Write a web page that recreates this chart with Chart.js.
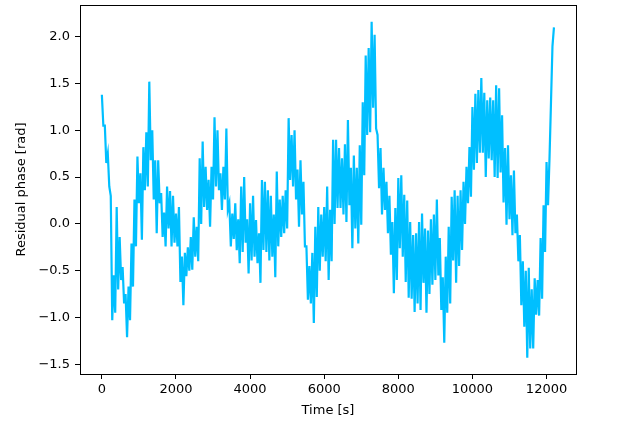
<!DOCTYPE html>
<html>
<head>
<meta charset="utf-8">
<script src="https://cdn.jsdelivr.net/npm/chart.js@4/dist/chart.umd.min.js"></script>
<style>
  body { margin: 0; background: #fff; }
  canvas { display: block; }
</style>
</head>
<body>
<canvas id="phaseChart" width="636" height="422"></canvas>
<script>
const sampleStep = 40;
const phase = [
  1.38, 1.05,  1.05, 0.65,  0.75, 0.40,  0.30, -1.03,  -0.55, -0.95,
  0.18, -0.70,  -0.14, -0.60,  -0.46, -0.85,  -0.75, -1.21,  -0.67, -1.03,
  -0.21, -0.67,  0.26, -0.24,  0.72, 0.22,  0.54, -0.17,  0.82, 0.36,
  0.98, 0.40,  1.52, 0.68,  1.00, 0.26,  0.68, -0.10,  0.68, 0.22,
  0.33, -0.14,  0.12, -0.24,  0.40, -0.05,  0.35, -0.24,  0.30, -0.20,
  0.11, -0.24,  0.18, -0.62,  -0.35, -0.87,  -0.31, -0.56,  -0.25, -0.50,
  -0.14, -0.49,  0.07, -0.35,  -0.03, -0.40,  0.70, 0.00,  0.88, 0.18,
  0.61, 0.15,  0.47, -0.03,  0.61, 0.26,  1.14, 0.40,  1.00, 0.36,
  0.54, 0.15,  0.61, 0.26,  1.02, 0.15,  0.22, -0.24,  0.11, -0.16,
  0.22, -0.28,  0.05, -0.42,  0.40, -0.30,  0.50, -0.20,  0.05, -0.53,
  0.22, -0.39,  0.30, -0.35,  0.04, -0.42,  -0.10, -0.63,  0.47, -0.28,
  0.45, -0.30,  0.36, -0.39,  0.30, -0.35,  0.10, -0.57,  0.56, -0.24,
  0.26, -0.14,  0.30, -0.10,  0.36, -0.05,  1.13, 0.47,  0.95, 0.40,
  1.00, 0.26,  0.58, -0.03,  0.68, 0.10,  0.45, -0.24,  -0.24, -0.81,
  -0.45, -0.85,  -0.31, -1.06,  -0.03, -0.78,  0.18, -0.50,  0.10, -0.35,
  0.18, -0.40,  0.40, -0.60,  0.15, -0.40,  0.90, 0.00,  0.90, 0.17,
  0.81, 0.17,  0.70, 0.10,  0.85, 0.02,  1.11, 0.20,  0.60, -0.26,
  0.73, -0.05,  0.60, -0.21,  0.84, -0.01,  1.30, 0.52,  1.80, 0.95,
  1.88, 0.98,  2.16, 1.24,  2.02, 1.02,  0.95, 0.38,  0.81, 0.10,
  0.60, 0.15,  0.45, -0.10,  0.30, -0.33,  0.02, -0.74,  0.17, -0.60,
  0.49, -0.26,  0.52, -0.35,  0.31, -0.62,  0.25, -0.79,  0.02, -0.80,
  -0.12, -0.94,  -0.10, -0.85,  0.02, -0.92,  0.11, -0.63,  -0.05, -0.95,
  -0.07, -0.75,  0.05, -0.65,  0.10, -0.60,  0.26, -0.55,  -0.15, -0.92,
  -0.57, -1.27,  -0.35, -0.95,  -0.03, -0.85,  0.29, -0.39,  0.36, -0.63,
  0.30, -0.45,  0.36, -0.28,  0.45, 0.00,  0.61, 0.22,  0.82, 0.29,
  1.25, 0.58,  1.39, 0.65,  1.43, 0.76,  1.56, 0.76,  1.40, 0.50,
  1.32, 0.70,  1.35, 0.68,  1.32, 0.50,  1.48, 0.49,  1.45, 0.55,
  1.16, 0.23,  0.81, -0.01,  0.84, 0.05,  0.52, -0.12,  0.57, -0.10,
  0.10, -0.40,  -0.12, -0.87,  -0.40, -1.10,  -0.50, -1.43,  -0.47, -1.33,
  -0.70, -1.33,  -0.58, -0.97,  -0.60, -0.98,  -0.15, -0.80,  0.20, -0.30,
  0.66, 0.20,  0.70, 1.30,  1.90, 2.10
];

const xTickValues = [0, 2000, 4000, 6000, 8000, 10000, 12000];
const xTickLabels = ['0', '2000', '4000', '6000', '8000', '10000', '12000'];
const yTickValues = [-1.5, -1.0, -0.5, 0.0, 0.5, 1.0, 1.5, 2.0];
const yTickLabels = ['\u22121.5', '\u22121.0', '\u22120.5', '0.0', '0.5', '1.0', '1.5', '2.0'];

const points = phase.map((v, i) => ({ x: i * sampleStep, y: v }));

const tickFont = { family: 'DejaVu Sans', size: 13 };

// matplotlib style full frame around the plot area
const frame = {
    id: 'frame',
    afterDraw(chart) {
        const { ctx, chartArea: a } = chart;
        ctx.save();
        ctx.strokeStyle = '#000';
        ctx.lineWidth = 1;
        ctx.strokeRect(a.left + 0.5, a.top + 0.5, a.right - a.left, a.bottom - a.top);
        ctx.restore();
    }
};

Chart.defaults.color = '#000';
Chart.defaults.font.family = 'DejaVu Sans';

new Chart(document.getElementById('phaseChart'), {
    type: 'line',
    data: {
        datasets: [{
            data: points,
            borderColor: '#00bfff',
            borderWidth: 2.2,
            pointRadius: 0,
            tension: 0,
            fill: false
        }]
    },
    options: {
        responsive: false,
        animation: false,
        devicePixelRatio: 1,
        plugins: { legend: { display: false }, tooltip: { enabled: false } },
        layout: { padding: { top: 5, right: 60, bottom: 0, left: 0 } },
        scales: {
            x: {
                type: 'linear',
                min: -590,
                max: 12795,
                afterFit(scale) {
                    scale.height = 48;
                    scale.paddingLeft = 0;
                    scale.paddingRight = 0;
                },
                afterBuildTicks(scale) { scale.ticks = xTickValues.map(v => ({ value: v })); },
                grid: { drawOnChartArea: false, drawTicks: true, tickLength: 5, tickColor: '#000' },
                border: { display: false },
                ticks: {
                    font: tickFont,
                    padding: 3,
                    maxRotation: 0,
                    autoSkip: false,
                    callback: (v) => xTickLabels[xTickValues.indexOf(v)]
                },
                title: { display: true, text: 'Time [s]', font: tickFont, padding: { top: 0, bottom: 4 } }
            },
            y: {
                type: 'linear',
                min: -1.604,
                max: 2.339,
                afterFit(scale) {
                    scale.width = 80;
                    scale.paddingTop = 0;
                    scale.paddingBottom = 0;
                },
                afterBuildTicks(scale) { scale.ticks = yTickValues.map(v => ({ value: v })); },
                grid: { drawOnChartArea: false, drawTicks: true, tickLength: 5, tickColor: '#000' },
                border: { display: false },
                ticks: {
                    font: tickFont,
                    padding: 5,
                    autoSkip: false,
                    callback: (v) => yTickLabels[yTickValues.indexOf(v)]
                },
                title: { display: true, text: 'Residual phase [rad]', font: tickFont, padding: { top: 14, bottom: 0 } }
            }
        }
    },
    plugins: [frame]
});
</script>
</body>
</html>
